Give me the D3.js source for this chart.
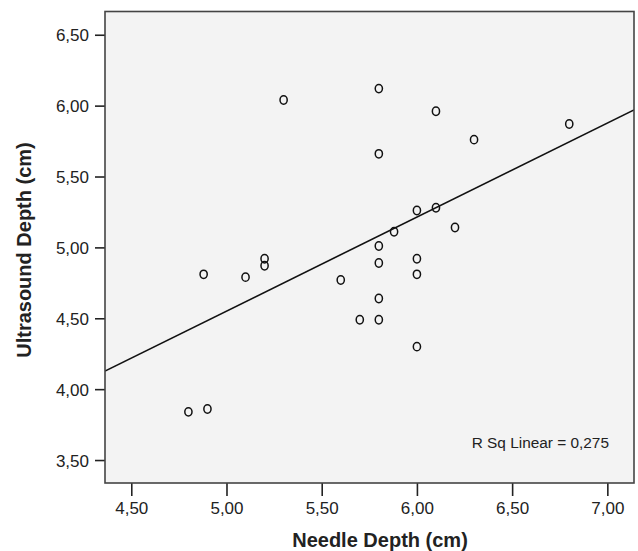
<!DOCTYPE html>
<html>
<head>
<meta charset="utf-8">
<script src="https://cdn.jsdelivr.net/npm/d3@7"></script>
<style>
  body { margin: 0; background: #fff; }
  text { font-family: "Liberation Sans", Arial, sans-serif; fill: #222; }
</style>
</head>
<body>
<svg id="chart"></svg>
<script>
// Data
var needleDepth = [4.80, 4.90, 4.88, 5.10, 5.20, 5.20, 5.30, 5.60, 5.70,
                   5.80, 5.80, 5.80, 5.80, 5.80, 5.80, 5.88,
                   6.00, 6.00, 6.00, 6.00, 6.10, 6.10, 6.20, 6.30, 6.80];
var ultrasoundDepth = [3.84, 3.86, 4.81, 4.79, 4.92, 4.87, 6.04, 4.77, 4.49,
                       4.49, 4.64, 4.89, 5.01, 5.66, 6.12, 5.11,
                       5.26, 4.92, 4.81, 4.30, 5.28, 5.96, 5.14, 5.76, 5.87];
var xTicks = [4.5, 5.0, 5.5, 6.0, 6.5, 7.0];
var yTicks = [3.5, 4.0, 4.5, 5.0, 5.5, 6.0, 6.5];
var xDomain = [4.362, 7.140];
var yDomain = [3.338, 6.664];
var rsqLabel = "R Sq Linear = 0,275";

var width = 638, height = 551;
var plot = { left: 105, right: 634, top: 11.5, bottom: 483 };

var svg = d3.select("#chart")
    .attr("width", width)
    .attr("height", height);

var x = d3.scaleLinear().domain(xDomain).range([plot.left, plot.right]);
var y = d3.scaleLinear().domain(yDomain).range([plot.bottom, plot.top]);

var fmt = function(d){ return d3.format(".2f")(d).replace(".", ","); };

// plot background
svg.append("rect")
    .attr("x", plot.left).attr("y", plot.top)
    .attr("width", plot.right - plot.left)
    .attr("height", plot.bottom - plot.top)
    .attr("fill", "#f3f3f3");

svg.append("clipPath").attr("id", "clip")
  .append("rect")
    .attr("x", plot.left).attr("y", plot.top)
    .attr("width", plot.right - plot.left)
    .attr("height", plot.bottom - plot.top);

// axes
var xAxis = svg.append("g")
    .attr("transform", "translate(0," + plot.bottom + ")")
    .call(d3.axisBottom(x).tickValues(xTicks).tickFormat(fmt).tickSize(13).tickPadding(6));
var yAxis = svg.append("g")
    .attr("transform", "translate(" + plot.left + ",0)")
    .call(d3.axisLeft(y).tickValues(yTicks).tickFormat(fmt).tickSize(10).tickPadding(6));

[xAxis, yAxis].forEach(function(a){
    a.select(".domain").remove();
    a.selectAll(".tick line").attr("stroke", "#222").attr("stroke-width", 1.6);
    a.selectAll(".tick text")
        .style("font-family", "'Liberation Sans', Arial, sans-serif")
        .style("font-size", "17px")
        .attr("fill", "#222");
});
yAxis.selectAll(".tick text").attr("dy", "0.36em");

// regression line (least squares on the points)
var pts = needleDepth.map(function(d, i){ return [d, ultrasoundDepth[i]]; });
var mx = d3.mean(needleDepth), my = d3.mean(ultrasoundDepth);
var sxy = d3.sum(pts, function(p){ return (p[0]-mx)*(p[1]-my); });
var sxx = d3.sum(pts, function(p){ return (p[0]-mx)*(p[0]-mx); });
var slope = sxy / sxx, intercept = my - slope * mx;

svg.append("line")
    .attr("clip-path", "url(#clip)")
    .attr("x1", x(xDomain[0])).attr("y1", y(intercept + slope * xDomain[0]))
    .attr("x2", x(xDomain[1])).attr("y2", y(intercept + slope * xDomain[1]))
    .attr("stroke", "#111")
    .attr("stroke-width", 1.6);

// points
svg.append("g")
    .selectAll("ellipse")
    .data(pts)
    .join("ellipse")
      .attr("cx", function(d){ return x(d[0]); })
      .attr("cy", function(d){ return y(d[1]); })
      .attr("rx", 3.6)
      .attr("ry", 4.2)
      .attr("fill", "none")
      .attr("stroke", "#111")
      .attr("stroke-width", 1.5);

// frame
svg.append("rect")
    .attr("x", plot.left).attr("y", plot.top)
    .attr("width", plot.right - plot.left)
    .attr("height", plot.bottom - plot.top)
    .attr("fill", "none")
    .attr("stroke", "#444")
    .attr("stroke-width", 1.6);

// R squared label
svg.append("text")
    .attr("x", 609).attr("y", 448)
    .attr("text-anchor", "end")
    .style("font-size", "15.4px")
    .text(rsqLabel);

// axis titles
svg.append("text")
    .attr("x", 380).attr("y", 547)
    .attr("text-anchor", "middle")
    .style("font-size", "20px")
    .style("font-weight", "bold")
    .text("Needle Depth (cm)");

svg.append("text")
    .attr("transform", "translate(31,250) rotate(-90)")
    .attr("text-anchor", "middle")
    .style("font-size", "20px")
    .style("font-weight", "bold")
    .text("Ultrasound Depth (cm)");
</script>
</body>
</html>
